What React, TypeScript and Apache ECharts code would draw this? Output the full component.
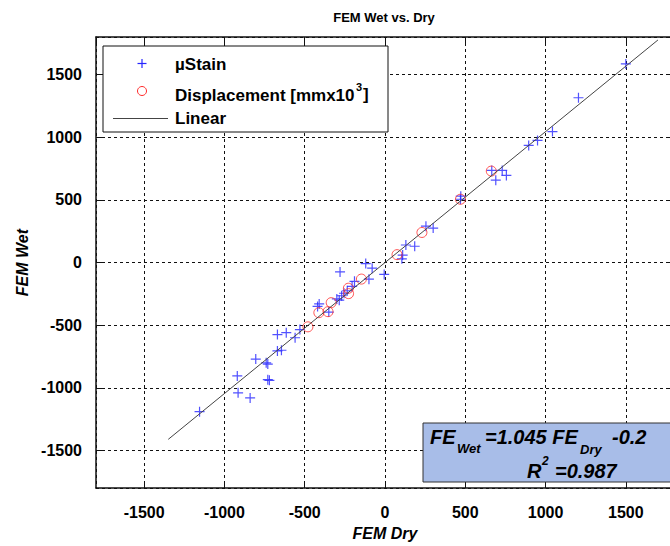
import React, { useEffect, useRef } from "react";
import * as echarts from "echarts";

// ---------------- data ----------------
const chartTitle = "FEM Wet vs. Dry";
const xAxisName = "FEM Dry";
const yAxisName = "FEM Wet";
const axisMin = -1800;
const axisMax = 1800;

const stainName = "\u00b5Stain";
const displacementName = "Displacement [mmx10";
const linearName = "Linear";

const stainPoints: [number, number][] = [
  [-1155, -1190], [-920, -905], [-915, -1040], [-840, -1080], [-805, -770],
  [-740, -800], [-730, -810], [-730, -935], [-720, -940], [-670, -705],
  [-645, -700], [-670, -575], [-615, -560], [-560, -600], [-530, -535],
  [-420, -350], [-410, -330], [-350, -395], [-300, -290], [-285, -300],
  [-270, -265], [-255, -245], [-235, -225], [-205, -190], [-190, -150],
  [-280, -75], [-120, -8], [-80, -45], [-5, -95], [-100, -133],
  [105, 30], [110, 60], [130, 140], [185, 130], [255, 290],
  [300, 275], [472, 530], [470, 505], [665, 735], [690, 657],
  [730, 735], [756, 695], [895, 935], [950, 975], [1043, 1045],
  [1205, 1315], [1500, 1585],
];

const displacementPoints: [number, number][] = [
  [-480, -513], [-412, -400], [-355, -392], [-335, -320], [-227, -248],
  [-228, -205], [-147, -132], [75, 63], [230, 240], [470, 505], [662, 730],
];

const fitSlope = 1.045;
const fitIntercept = -0.2;
const fitRangeX = [-1350, 1700];
const rSquaredText = "=0.987";

// ---------------- styling ----------------
const FONT = "'Liberation Sans', Arial, Helvetica, sans-serif";
const PLUS_PATH =
  "path://M4.4,0h1.2v4.4h4.4v1.2h-4.4v4.4h-1.2v-4.4h-4.4v-1.2h4.4z";
const BLUE = "#2626ff";
const RED = "#ff2a2a";

function txt(
  text: string,
  x: number,
  y: number,
  size: number,
  opts: { weight?: string; italic?: boolean; align?: string; z?: number } = {}
) {
  return {
    type: "text",
    x,
    y,
    z: opts.z ?? 110,
    silent: true,
    style: {
      text,
      fontSize: size,
      fontWeight: opts.weight ?? "bold",
      fontStyle: opts.italic ? "italic" : "normal",
      fontFamily: FONT,
      fill: "#000",
      align: opts.align ?? "left",
      textAlign: opts.align ?? "left",
      verticalAlign: "middle",
      textVerticalAlign: "middle",
    },
  };
}

export default function App() {
  const ref = useRef<HTMLDivElement>(null);

  useEffect(() => {
    if (!ref.current) return;
    const chart = echarts.init(ref.current, null, { renderer: "svg" });

    const fitData = fitRangeX.map((x) => [x, fitSlope * x + fitIntercept]);

    const splitLine = {
      show: true,
      lineStyle: { color: "#111", width: 1, type: [3, 3] },
    };
    const axisLine = { show: true, onZero: false, lineStyle: { color: "#111", width: 1.5 } };
    const axisTick = { show: true, inside: true, length: 6, lineStyle: { color: "#111", width: 1 } };
    const labelStyle = {
      fontFamily: FONT,
      fontSize: 16,
      fontWeight: "bold",
      color: "#000",
      showMinLabel: false,
      showMaxLabel: false,
      formatter: (v: number) => String(v),
    };

    chart.setOption({
      animation: false,
      backgroundColor: "#fff",
      title: {
        text: chartTitle,
        left: 384,
        top: 11,
        padding: 0,
        textAlign: "center",
        textStyle: { fontFamily: FONT, fontSize: 13, fontWeight: "bold", color: "#000" },
      },
      grid: { left: 96, top: 37, right: 6, bottom: 55, containLabel: false },
      xAxis: [
        {
          type: "value",
          min: axisMin,
          max: axisMax,
          splitNumber: 7,
          position: "bottom",
          name: xAxisName,
          nameLocation: "middle",
          nameGap: 34,
          nameTextStyle: { fontFamily: FONT, fontSize: 16, fontWeight: "bold", fontStyle: "italic", color: "#000" },
          axisLine,
          axisTick,
          axisLabel: { ...labelStyle, margin: 16 },
          splitLine,
        },
        {
          type: "value",
          min: axisMin,
          max: axisMax,
          splitNumber: 7,
          position: "top",
          axisLine,
          axisTick,
          axisLabel: { show: false },
          splitLine: { show: false },
        },
      ],
      yAxis: [
        {
          type: "value",
          min: axisMin,
          max: axisMax,
          splitNumber: 7,
          position: "left",
          name: yAxisName,
          nameLocation: "middle",
          nameGap: 64,
          nameTextStyle: { fontFamily: FONT, fontSize: 16, fontWeight: "bold", fontStyle: "italic", color: "#000" },
          axisLine,
          axisTick,
          axisLabel: { ...labelStyle, margin: 14 },
          splitLine,
        },
        {
          type: "value",
          min: axisMin,
          max: axisMax,
          splitNumber: 7,
          position: "right",
          axisLine,
          axisTick,
          axisLabel: { show: false },
          splitLine: { show: false },
        },
      ],
      series: [
        {
          name: stainName,
          type: "scatter",
          data: stainPoints,
          symbol: PLUS_PATH,
          symbolSize: 10,
          itemStyle: { color: BLUE },
          z: 3,
        },
        {
          name: displacementName,
          type: "scatter",
          data: displacementPoints,
          symbol: "circle",
          symbolSize: 10,
          itemStyle: { color: "rgba(0,0,0,0)", borderColor: RED, borderWidth: 1 },
          z: 4,
        },
        {
          name: linearName,
          type: "line",
          data: fitData,
          symbol: "none",
          lineStyle: { color: "#444", width: 1 },
          z: 5,
        },
      ],
      graphic: [
        // legend
        {
          type: "rect",
          z: 100,
          silent: true,
          shape: { x: 103, y: 46, width: 285, height: 86 },
          style: { fill: "#fff", stroke: "#111", lineWidth: 1 },
        },
        {
          type: "line",
          z: 105,
          silent: true,
          shape: { x1: 137.5, y1: 63.5, x2: 146.5, y2: 63.5 },
          style: { stroke: BLUE, lineWidth: 1.2 },
        },
        {
          type: "line",
          z: 105,
          silent: true,
          shape: { x1: 142, y1: 59, x2: 142, y2: 68 },
          style: { stroke: BLUE, lineWidth: 1.2 },
        },
        {
          type: "circle",
          z: 105,
          silent: true,
          shape: { cx: 142, cy: 91, r: 4.5 },
          style: { fill: "none", stroke: RED, lineWidth: 1 },
        },
        {
          type: "line",
          z: 105,
          silent: true,
          shape: { x1: 113, y1: 118.5, x2: 168, y2: 118.5 },
          style: { stroke: "#444", lineWidth: 1 },
        },
        txt(stainName, 175, 64, 17),
        txt(displacementName, 175, 95, 17),
        txt("3", 356, 87, 11),
        txt("]", 363, 94, 17),
        txt(linearName, 175, 118, 17),
        // fit annotation
        {
          type: "rect",
          z: 100,
          silent: true,
          shape: { x: 423, y: 423, width: 270, height: 59 },
          style: { fill: "#a8bde8", stroke: "#333", lineWidth: 1 },
        },
        txt("FE", 430, 436.5, 20, { italic: true }),
        txt("Wet", 457, 448, 13, { italic: true }),
        txt("=1.045 FE", 485, 436.5, 20, { italic: true }),
        txt("Dry", 580, 449, 13, { italic: true }),
        txt("-0.2", 612, 436.5, 20, { italic: true }),
        txt("R", 527, 470.5, 20, { italic: true }),
        txt("2", 542, 461, 12, { italic: true }),
        txt(rSquaredText, 555, 470.5, 20, { italic: true }),
      ],
    });

    return () => chart.dispose();
  }, []);

  return (
    <div
      ref={ref}
      style={{ position: "fixed", left: 0, top: 0, width: 680, height: 546, background: "#fff" }}
    />
  );
}
